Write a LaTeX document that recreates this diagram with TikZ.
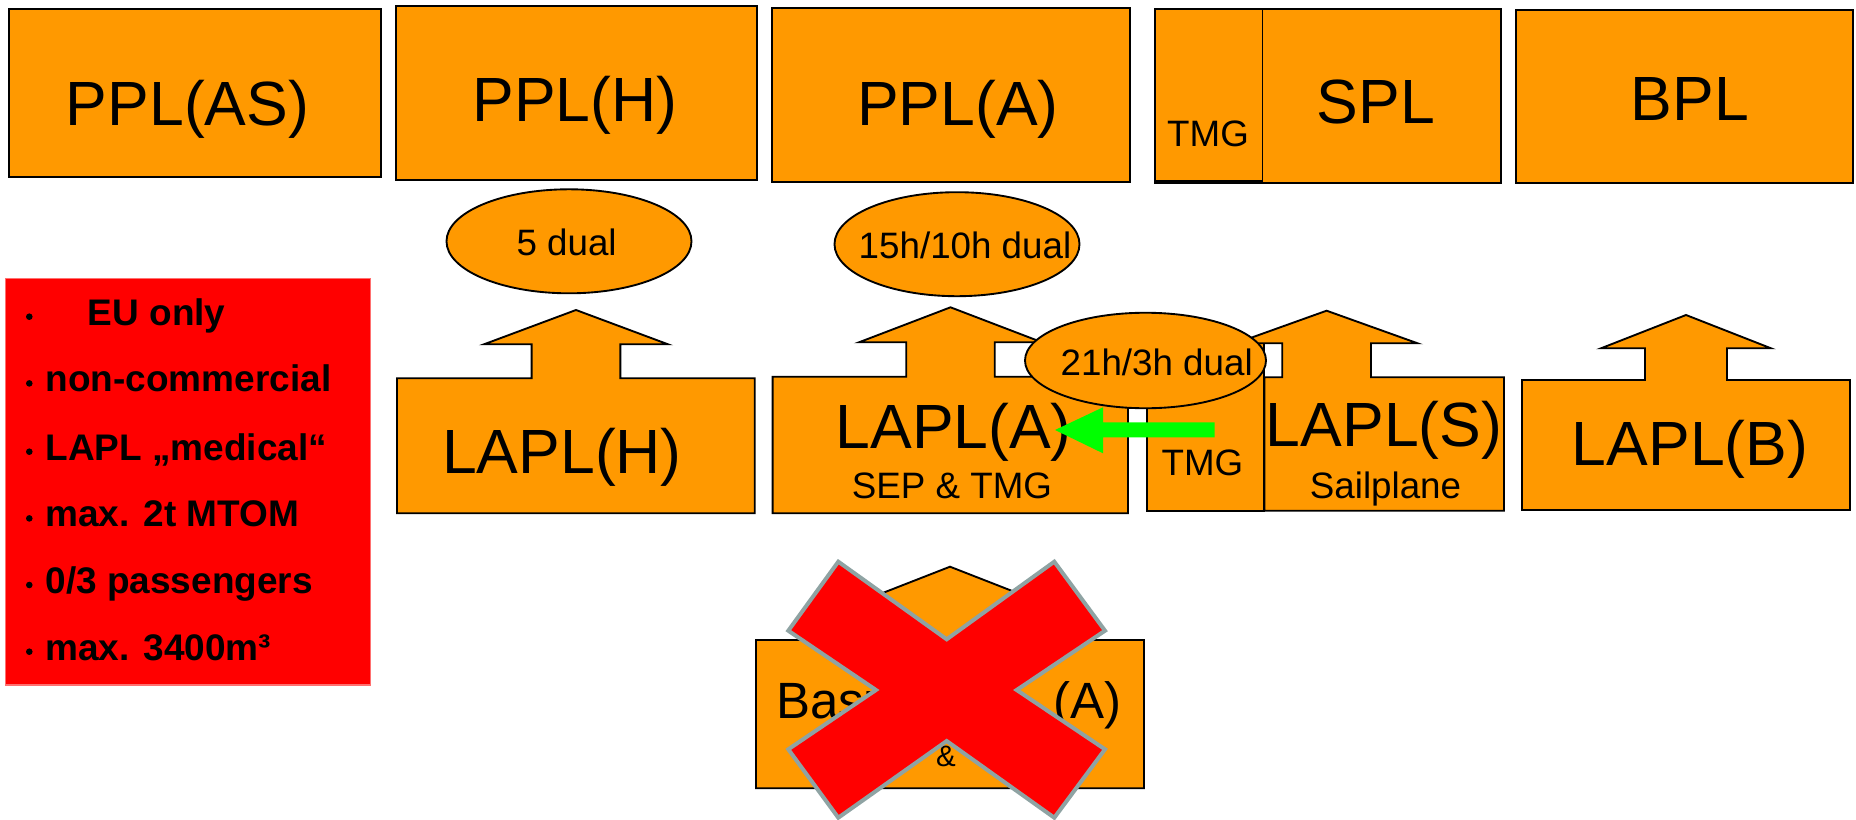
\documentclass[tikz,border=0pt]{standalone}
\usepackage{fontspec}
\setmainfont{Liberation Sans}
\usetikzlibrary{shapes.geometric}
\definecolor{orng}{HTML}{FF9900}
\definecolor{xgray}{HTML}{8FA3A3}
\definecolor{grn}{HTML}{00FF00}
\definecolor{redline}{HTML}{FF7070}
% arrow-topped box: L T R B cx tipY headY halfhead halfshaft
\newcommand{\arrbox}[9]{%
  \path[obox] (#1,#4) -- (#1,#2) -- ({#5-#9},#2) -- ({#5-#9},#7) -- ({#5-#8},#7)
    -- (#5,#6) -- ({#5+#8},#7) -- ({#5+#9},#7) -- ({#5+#9},#2) -- (#3,#2) -- (#3,#4) -- cycle;}
\begin{document}
\begin{tikzpicture}[x=0.4pt,y=-0.4pt,
  obox/.style={draw=black, fill=orng, line width=0.75pt, line join=miter},
  big/.style={font=\fontsize{25}{30}\selectfont, anchor=base, inner sep=0},
  basic/.style={font=\fontsize{20.4}{24}\selectfont, anchor=base, inner sep=0},
  mid/.style={font=\fontsize{14.7}{17}\selectfont, anchor=base, inner sep=0},
  small/.style={font=\fontsize{11.8}{14}\selectfont, anchor=base, inner sep=0},
  lst/.style={font=\bfseries\fontsize{14.8}{17}\selectfont, anchor=base west, inner sep=0},
  oval/.style={draw=black, fill=orng, line width=0.75pt, ellipse, inner sep=0},
]
\useasboundingbox (0,0) rectangle (1856,820);

% ---------- top row ----------
\path[obox] (9.2,9) rectangle (380.6,176.7);
\node[big] (pplas) at (187.5,125) {PPL(AS)};
\path[obox] (396.4,6) rectangle (757,180);
\node[big] (pplh) at (575,121.7) {PPL(H)};
\path[obox] (772,8.3) rectangle (1130,181.7);
\node[big] (ppla) at (958,125) {PPL(A)};
\path[obox] (1154.7,9.3) rectangle (1500.6,182.7);
\draw[line width=0.75pt] (1262.5,9.3) -- (1262.5,182.7);
\draw[line width=1.5pt] (1154.7,182) -- (1262.5,182);
\node[mid] (tmgtop) at (1208,146.7) {TMG};
\node[big] (spl) at (1376,123) {SPL};
\path[obox] (1515.8,10) rectangle (1853,182.7);
\node[big] (bpl) at (1690,120.7) {BPL};

% ---------- red info box ----------
\path[fill=red, draw=redline, line width=0.5pt] (5.7,278.3) rectangle (370.7,685);
\foreach \yy in {325,391.7,460,526.7,593.3,660} {\fill (29.3,\yy-8.3) circle[radius=3.3];}
\node[lst] (l1) at (87.3,325) {EU only};
\node[lst] (l2) at (45,391.7) {non-commercial};
\node[lst] (l3) at (45,460) {LAPL „medical“};
\node[lst] (l4) at (45,526.7) {max. 2t MTOM};
\node[lst] (l5) at (45,593.3) {0/3 passengers};
\node[lst] (l6) at (45,660) {max. 3400m³};

% ---------- ellipses ----------
\node[oval, minimum width=98pt, minimum height=41.6pt] (e5) at (569,241.3) {};
\node[mid] (t5) at (566.6,255) {5 dual};
\node[oval, minimum width=98pt, minimum height=41.6pt] (e15) at (957,244.2) {};
\node[mid] (t15) at (965,258.3) {15h/10h dual};

% ---------- LAPL row ----------
\arrbox{397}{378.3}{754.7}{513.3}{576}{310}{344.3}{92}{44.4}
\node[big] (laplh) at (562,473.3) {LAPL(H)};

\arrbox{772.6}{376.7}{1128}{513.3}{950.5}{307.3}{342.3}{91.5}{44.3}
\node[big] (lapla) at (953.7,448.3) {LAPL(A)};
\node[mid] (sepa) at (952,498.3) {SEP \& TMG};

\path[obox] (1146.7,343.3) rectangle (1264.4,510.7);
\arrbox{1264.4}{377.3}{1504}{510.7}{1326.6}{310.7}{343.3}{91}{44.4}
\node[mid] (tmgs) at (1202.4,475) {TMG};
\node[big] (lapls) at (1384,446.7) {LAPL(S)};
\node[mid] (sail) at (1385.5,498.3) {Sailplane};

\arrbox{1522}{380}{1850}{510}{1686}{315}{348.3}{85}{41}
\node[big] (laplb) at (1690,465.7) {LAPL(B)};

\node[oval, minimum width=96.4pt, minimum height=38.2pt] (e21) at (1145.5,360.5) {};
\node[mid] (t21) at (1156.7,375.7) {21h/3h dual};

% green block arrow
\fill[grn] (1055,430) -- (1103,407.3) -- (1103,422.3) -- (1214.5,422.3)
  -- (1214.5,437.3) -- (1103,437.3) -- (1103,453.3) -- cycle;

% ---------- Basic LAPL ----------
\arrbox{756}{640}{1144}{788.3}{950}{566.7}{612}{116}{44}
\node[basic] (basic) at (949,718.3) {Basic LAPL (A)};
\node[small] (basicsub) at (946,766.7) {\&};

% red cross
\path[fill=red, draw=xgray, line width=1.6pt, line join=miter]
  (838.3,561.7) -- (946.7,639.3) -- (1054.3,561.7) -- (1105,630.7) -- (1016.7,690)
  -- (1105,749.3) -- (1054.3,817.7) -- (946.7,741) -- (838.3,817.7) -- (788.3,749.3)
  -- (876,690) -- (788.3,630.7) -- cycle;
\end{tikzpicture}
\end{document}
